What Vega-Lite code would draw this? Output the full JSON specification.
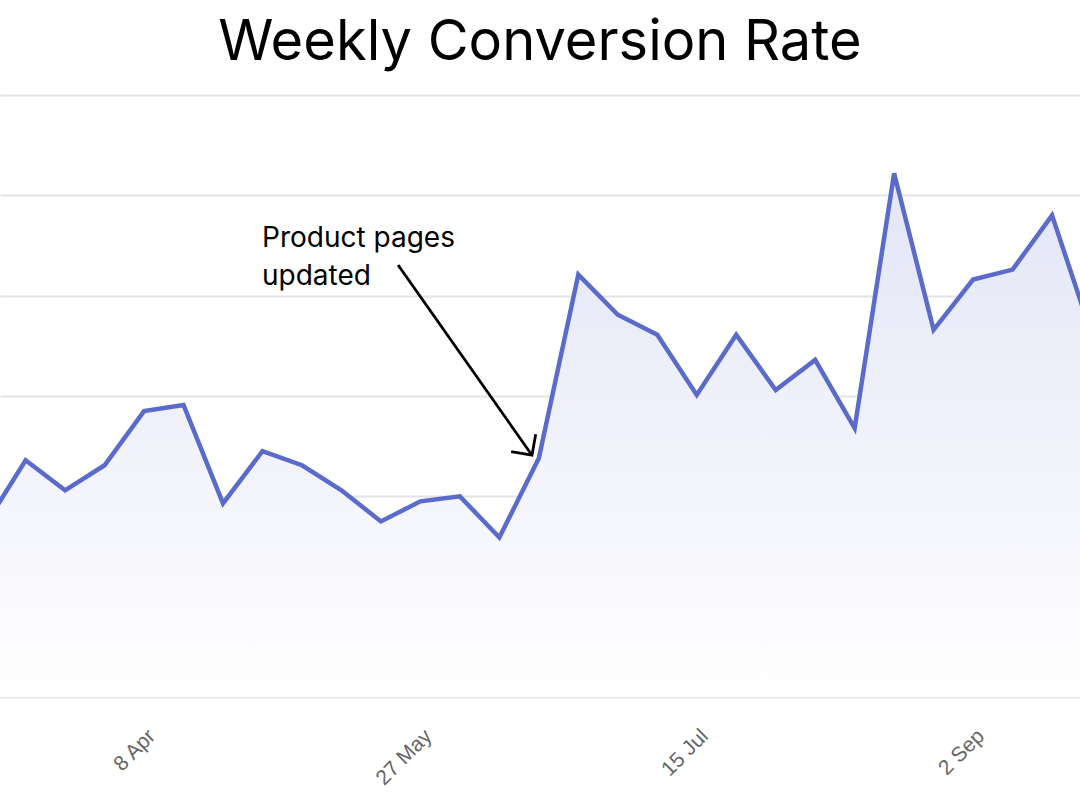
{
  "$schema": "https://vega.github.io/schema/vega-lite/v6.json",
  "autosize": {"type": "none"},
  "width": 1080,
  "height": 602,
  "padding": {"left": 0, "right": 0, "top": 95, "bottom": 107},
  "background": "white",
  "title": {
    "text": "Weekly Conversion Rate",
    "font": "Inter",
    "fontSize": 56,
    "fontWeight": 400,
    "color": "#000000",
    "anchor": "middle",
    "offset": 23
  },
  "config": {
    "view": {"stroke": null},
    "axis": {"labelFont": "Liberation Sans"}
  },
  "datasets": {
    "rate": [
      {"week": "2024-03-11", "rate": 1.73},
      {"week": "2024-03-18", "rate": 2.36},
      {"week": "2024-03-25", "rate": 2.06},
      {"week": "2024-04-01", "rate": 2.31},
      {"week": "2024-04-08", "rate": 2.85},
      {"week": "2024-04-15", "rate": 2.91},
      {"week": "2024-04-22", "rate": 1.93},
      {"week": "2024-04-29", "rate": 2.45},
      {"week": "2024-05-06", "rate": 2.31},
      {"week": "2024-05-13", "rate": 2.06},
      {"week": "2024-05-20", "rate": 1.75},
      {"week": "2024-05-27", "rate": 1.95},
      {"week": "2024-06-03", "rate": 2.0},
      {"week": "2024-06-10", "rate": 1.59},
      {"week": "2024-06-17", "rate": 2.38},
      {"week": "2024-06-24", "rate": 4.21},
      {"week": "2024-07-01", "rate": 3.81},
      {"week": "2024-07-08", "rate": 3.61},
      {"week": "2024-07-15", "rate": 3.01},
      {"week": "2024-07-22", "rate": 3.61},
      {"week": "2024-07-29", "rate": 3.06},
      {"week": "2024-08-05", "rate": 3.36},
      {"week": "2024-08-12", "rate": 2.68},
      {"week": "2024-08-19", "rate": 5.22},
      {"week": "2024-08-26", "rate": 3.66},
      {"week": "2024-09-02", "rate": 4.16},
      {"week": "2024-09-09", "rate": 4.26},
      {"week": "2024-09-16", "rate": 4.8},
      {"week": "2024-09-23", "rate": 3.62}
    ],
    "arrow": [
      {"x": "2024-05-23T01:00:00Z", "y": 4.306, "x2": "2024-06-15T19:00:00Z", "y2": 2.41}
    ],
    "note": [
      {"x": "2024-04-28T22:00:00Z", "y": 4.485, "label": ["Product pages", "updated"]}
    ]
  },
  "encoding": {
    "x": {
      "field": "week",
      "type": "temporal",
      "scale": {
        "type": "utc",
        "domain": [
          {"year": 2024, "month": 3, "date": 13, "hours": 11, "utc": true},
          {"year": 2024, "month": 9, "date": 20, "hours": 23, "utc": true}
        ]
      },
      "axis": {
        "title": null,
        "domain": false,
        "ticks": false,
        "grid": false,
        "values": [
          {"year": 2024, "month": 4, "date": 8, "utc": true},
          {"year": 2024, "month": 5, "date": 27, "utc": true},
          {"year": 2024, "month": 7, "date": 15, "utc": true},
          {"year": 2024, "month": 9, "date": 2, "utc": true}
        ],
        "labelExpr": "utcFormat(datum.value, '%-d %b')",
        "labelAngle": -45,
        "labelFontSize": 21,
        "labelColor": "#666666",
        "labelPadding": 28
      }
    },
    "y": {
      "field": "rate",
      "type": "quantitative",
      "scale": {"domain": [0, 6], "nice": false, "zero": true},
      "axis": {
        "title": null,
        "labels": false,
        "domain": false,
        "ticks": false,
        "grid": true,
        "gridColor": "#e4e4e4",
        "gridWidth": 2,
        "values": [0, 1, 2, 3, 4, 5, 6]
      }
    }
  },
  "layer": [
    {
      "data": {"name": "rate"},
      "mark": {
        "type": "area",
        "clip": true,
        "fill": {
          "gradient": "linear",
          "x1": 0, "y1": 0, "x2": 0, "y2": 1,
          "stops": [
            {"offset": 0, "color": "#e2e5f6"},
            {"offset": 1, "color": "#ffffff"}
          ]
        }
      }
    },
    {
      "data": {"name": "rate"},
      "mark": {"type": "line", "clip": true, "color": "#5a6bcb", "strokeWidth": 4.5, "strokeJoin": "miter"}
    },
    {
      "data": {"name": "arrow"},
      "mark": {"type": "rule", "color": "#000000", "strokeWidth": 2.8},
      "encoding": {
        "x": {"field": "x", "type": "temporal"},
        "y": {"field": "y", "type": "quantitative"},
        "x2": {"field": "x2"},
        "y2": {"field": "y2"}
      }
    },
    {
      "data": {"name": "arrow"},
      "mark": {
        "type": "point",
        "shape": "M-1,-1L0,0L-1,1",
        "filled": false,
        "stroke": "#000000",
        "strokeWidth": 2.8,
        "size": 900,
        "angle": 55,
        "opacity": 1
      },
      "encoding": {
        "x": {"field": "x2", "type": "temporal"},
        "y": {"field": "y2", "type": "quantitative"}
      }
    },
    {
      "data": {"name": "note"},
      "mark": {
        "type": "text",
        "align": "left",
        "baseline": "alphabetic",
        "font": "Inter",
        "fontSize": 28,
        "lineHeight": 38,
        "color": "#000000"
      },
      "encoding": {
        "x": {"field": "x", "type": "temporal"},
        "y": {"field": "y", "type": "quantitative"},
        "text": {"field": "label"}
      }
    }
  ]
}
